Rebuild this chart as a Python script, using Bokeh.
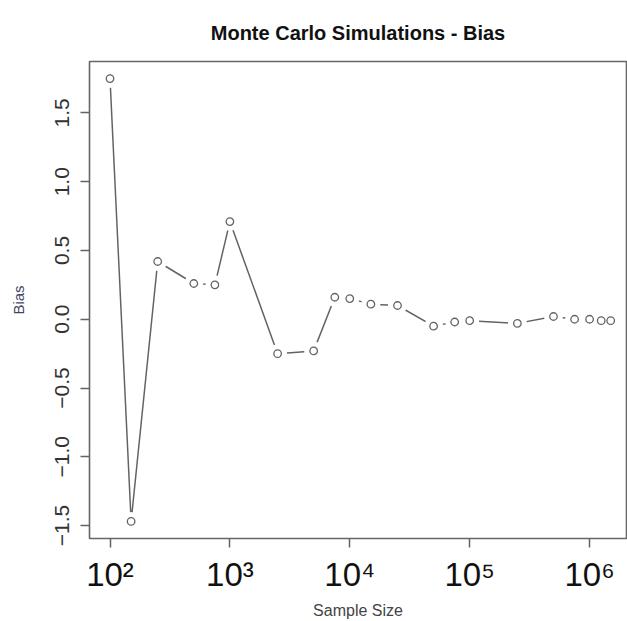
from bokeh.plotting import figure
from bokeh.models import Range1d, FixedTicker
from bokeh.embed import file_html
from bokeh.resources import INLINE

# ---- data ----
sample_size = [100, 150, 250, 500, 750, 1000, 2500, 5000, 7500, 10000, 15000,
               25000, 50000, 75000, 100000, 250000, 500000, 750000, 1000000,
               1250000, 1500000]
bias = [1.75, -1.47, 0.42, 0.26, 0.25, 0.71, -0.25, -0.23, 0.16, 0.15, 0.11,
        0.10, -0.05, -0.02, -0.01, -0.03, 0.02, 0.00, 0.00, -0.01, -0.01]
x_ticks = [100, 1000, 10000, 100000, 1000000]
x_tick_labels = ["10\u00b2", "10\u00b3", "10\u2074", "10\u2075", "10\u2076"]
y_ticks = [-1.5, -1.0, -0.5, 0.0, 0.5, 1.0, 1.5]
y_tick_labels = ["\u22121.5", "\u22121.0", "\u22120.5", "0.0", "0.5", "1.0", "1.5"]
title_text = "Monte Carlo Simulations - Bias"
x_label = "Sample Size"
y_label = "Bias"

FONT = "Liberation Sans"
GRAY = "#636363"

y_lo, y_hi = -1.594, 1.874
x_lo, x_hi = 10 ** 1.829, 10 ** 6.308

p = figure(width=627, height=621, x_axis_type="log",
           x_range=Range1d(x_lo, x_hi), y_range=Range1d(y_lo, y_hi),
           output_backend="svg", toolbar_location=None,
           min_border_left=89, min_border_right=1, min_border_top=61,
           min_border_bottom=81)

p.background_fill_color = "white"
p.border_fill_color = "white"
p.outline_line_color = "#666666"
p.outline_line_width = 1.6
p.grid.grid_line_color = None

# title
p.title.text = title_text
p.title.align = "center"
p.title.vertical_align = "top"
p.title.text_font = FONT
p.title.text_font_size = "20px"
p.title.text_font_style = "bold"
p.title.text_color = "#111111"
p.title.standoff = 31

# x axis
p.xaxis.ticker = FixedTicker(ticks=x_ticks)
p.xaxis.major_label_overrides = {t: lab for t, lab in zip(x_ticks, x_tick_labels)}
p.xaxis.axis_line_color = None
p.xaxis.major_tick_line_color = GRAY
p.xaxis.major_tick_line_width = 1.5
p.xaxis.major_tick_out = 9
p.xaxis.major_tick_in = 0
p.xaxis.minor_tick_line_color = None
p.xaxis.major_label_text_font = FONT
p.xaxis.major_label_text_font_size = "33px"
p.xaxis.major_label_text_color = "#111111"
p.xaxis.major_label_standoff = 8
p.xaxis.axis_label = x_label
p.xaxis.axis_label_text_font = FONT
p.xaxis.axis_label_text_font_size = "16px"
p.xaxis.axis_label_text_font_style = "normal"
p.xaxis.axis_label_text_color = "#444444"
p.xaxis.axis_label_standoff = 6

# y axis
p.yaxis.ticker = FixedTicker(ticks=y_ticks)
p.yaxis.major_label_overrides = {t: lab for t, lab in zip(y_ticks, y_tick_labels)}
p.yaxis.axis_line_color = None
p.yaxis.major_tick_line_color = GRAY
p.yaxis.major_tick_line_width = 1.5
p.yaxis.major_tick_out = 9
p.yaxis.major_tick_in = 0
p.yaxis.minor_tick_line_color = None
p.yaxis.major_label_orientation = "vertical"
p.yaxis.major_label_text_font = FONT
p.yaxis.major_label_text_font_size = "21px"
p.yaxis.major_label_text_color = "#333333"
p.yaxis.major_label_standoff = 11
p.yaxis.axis_label = y_label
p.yaxis.axis_label_text_font = FONT
p.yaxis.axis_label_text_font_size = "15px"
p.yaxis.axis_label_text_font_style = "normal"
p.yaxis.axis_label_text_color = "#444466"
p.yaxis.axis_label_standoff = 26

# line with gaps around points (R type = "b")
p.line(sample_size, bias, line_color=GRAY, line_width=1.5)
p.scatter(sample_size, bias, size=19, marker="circle", fill_color="white",
          line_color=None)
p.scatter(sample_size, bias, size=7.5, marker="circle", fill_color="white",
          line_color=GRAY, line_width=1.3)

open("out.html", "w").write(file_html(p, INLINE))
